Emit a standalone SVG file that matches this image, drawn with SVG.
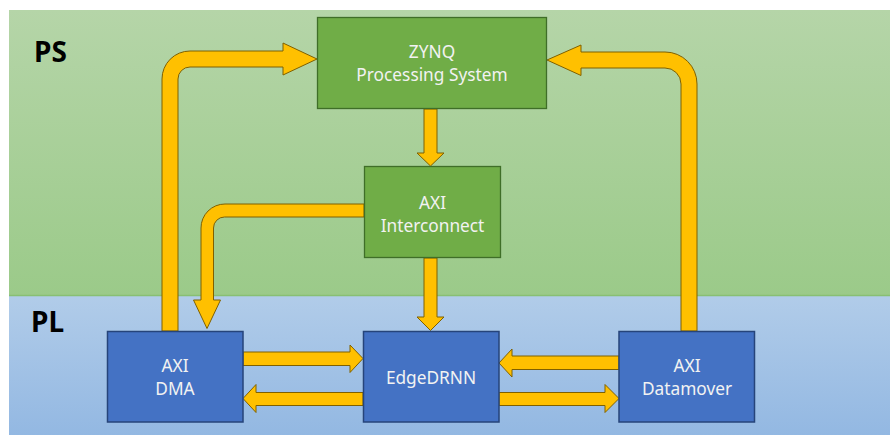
<svg xmlns="http://www.w3.org/2000/svg" width="890" height="435" viewBox="0 0 890 435">
  <defs>
    <linearGradient id="gPS" x1="0" y1="0" x2="0" y2="1">
      <stop offset="0" stop-color="#b5d5a8"/>
      <stop offset="1" stop-color="#9bca89"/>
    </linearGradient>
    <linearGradient id="gPL" x1="0" y1="0" x2="0" y2="1">
      <stop offset="0" stop-color="#b1cce9"/>
      <stop offset="1" stop-color="#93b8e2"/>
    </linearGradient>
    <style>
      .green { fill: #70ad47; stroke: #3f6e28; stroke-width: 1.3; }
      .blue { fill: #4472c4; stroke: #26447a; stroke-width: 1.5; }
      .arrow { fill: #ffc000; stroke: #7f6000; stroke-width: 1; stroke-linejoin: miter; }
      .lbl { font-family: "Noto Sans", "Open Sans", sans-serif; font-size: 17.3px; fill: #f2f2f2; text-anchor: middle; }
      .region { font-family: "Noto Sans", "Open Sans", sans-serif; font-size: 28px; font-weight: bold; fill: #000000; }
    </style>
  </defs>

  <g id="background">
    <rect x="9" y="10" width="881" height="286" fill="url(#gPS)"/>
    <rect x="9" y="296" width="881" height="139" fill="url(#gPL)"/>
    <line x1="9" y1="295.5" x2="890" y2="295.5" stroke="#88bf73" stroke-width="1.5"/>
    <text class="region" x="34" y="61.5">PS</text>
    <text class="region" x="31" y="331.5">PL</text>
  </g>

  <g id="connectors">
    <path class="arrow" d="M162,331 L162,79 A28,28 0 0 1 190,51 L283,51 L283,43 L317,59 L283,75 L283,67 L190,67 A12,12 0 0 0 178,79 L178,331 Z"/>
    <path class="arrow" d="M697,331 L697,84 A32,32 0 0 0 665,52 L581,52 L581,45 L547,60 L581,75.5 L581,68 L665,68 A16,16 0 0 1 681,84 L681,331 Z"/>
    <path class="arrow" d="M424,109 L437,109 L437,153 L444,153 L430.5,166 L417,153 L424,153 Z"/>
    <path class="arrow" d="M364,204 L225,204 A24,24 0 0 0 201,228 L201,300 L193.5,300 L207,328.5 L220.5,300 L213.5,300 L213.5,228 A11,11 0 0 1 224.5,217 L364,217 Z"/>
    <path class="arrow" d="M424,258 L437,258 L437,317 L444,317 L430.5,330.5 L417,317 L424,317 Z"/>
    <path class="arrow" d="M243,352 L350,352 L350,345 L363,358.5 L350,372.5 L350,365.5 L243,365.5 Z"/>
    <path class="arrow" d="M363,392.5 L256,392.5 L256,384.5 L243,398.5 L256,412.5 L256,405.5 L363,405.5 Z"/>
    <path class="arrow" d="M619,356 L512,356 L512,349 L499,363 L512,377 L512,369.5 L619,369.5 Z"/>
    <path class="arrow" d="M499,392.5 L605,392.5 L605,384.5 L619,398.5 L605,412.5 L605,405.5 L499,405.5 Z"/>
  </g>

  <g id="zynq">
    <rect class="green" x="317.5" y="17.5" width="229" height="91"/>
    <text class="lbl" x="432" y="57.5">ZYNQ</text>
    <text class="lbl" x="432" y="80.5">Processing System</text>
  </g>

  <g id="interconnect">
    <rect class="green" x="364.5" y="166.5" width="136" height="91"/>
    <text class="lbl" x="432.5" y="208.5">AXI</text>
    <text class="lbl" x="432.5" y="231.5">Interconnect</text>
  </g>

  <g id="dma">
    <rect class="blue" x="107.5" y="331.5" width="135.5" height="90.5"/>
    <text class="lbl" x="175" y="372">AXI</text>
    <text class="lbl" x="175" y="395">DMA</text>
  </g>

  <g id="edgedrnn">
    <rect class="blue" x="363.5" y="331.5" width="135.5" height="90.5"/>
    <text class="lbl" x="431" y="384">EdgeDRNN</text>
  </g>

  <g id="datamover">
    <rect class="blue" x="619" y="331.5" width="135.5" height="90.5"/>
    <text class="lbl" x="687" y="372">AXI</text>
    <text class="lbl" x="687" y="395">Datamover</text>
  </g>
</svg>
